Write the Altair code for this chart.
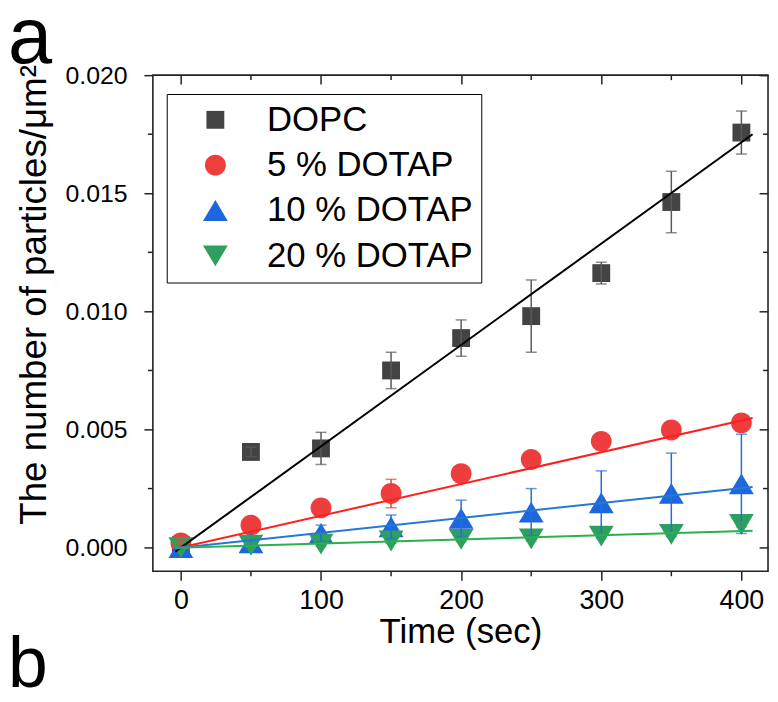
import altair as alt
import pandas as pd

FONT = "Liberation Sans"

# ---------------- data ----------------
time_s = [0, 50, 100, 150, 200, 250, 300, 350, 400]
series_names = ["DOPC", "5 % DOTAP", "10 % DOTAP", "20 % DOTAP"]

dopc = [0.0001, 0.00405, 0.0042, 0.0075, 0.00887, 0.0098, 0.01162, 0.01463, 0.01757]
dopc_err = [0.0, 0.0002, 0.00068, 0.00077, 0.00077, 0.00153, 0.00046, 0.0013, 0.00091]

dotap5 = [0.0002, 0.00095, 0.00168, 0.00229, 0.00313, 0.00373, 0.0045, 0.00498, 0.00528]
dotap5_err = [0.0001, 0.0002, 0.0002, 0.0006, 0.0002, 0.0002, 0.0002, 0.0002, 0.0002]

dotap10 = [0.0, 0.0002, 0.0006, 0.00088, 0.00124, 0.0015, 0.0019, 0.0023, 0.0027]
dotap10_err = [0.0, 0.0001, 0.00035, 0.0005, 0.00077, 0.001, 0.00135, 0.0017, 0.0021]

dotap20 = [0.0, 0.0001, 0.00015, 0.00028, 0.00035, 0.00037, 0.00049, 0.00056, 0.00098]
dotap20_err = [0.0, 0.0001, 0.0001, 0.0001, 0.0001, 0.0001, 0.0001, 0.0001, 0.0001]

# linear fit lines (end points)
fit_time = [-4, 408]
fit_dopc = [-0.00017, 0.0175]
fit_5 = [-0.00005, 0.00549]
fit_10 = [-0.00003, 0.00257]
fit_20 = [-0.00001, 0.00071]

# axis tick values
x_major = [0, 100, 200, 300, 400]
x_minor = [50, 150, 250, 350]
y_major = [0.0, 0.005, 0.010, 0.015, 0.020]
y_minor = [0.0025, 0.0075, 0.0125, 0.0175]

# styles
marker_colors = ["#434343", "#ee3d3d", "#1e66de", "#2f9f5f"]
line_colors = ["#000000", "#ff1f1f", "#2479d4", "#2ab14d"]
err_colors = ["#5a5a5a", "#ee3d3d", "#1e6fe0", "#2f9f5f"]
shape_paths = [
    "M-0.72,-0.72L0.72,-0.72L0.72,0.72L-0.72,0.72Z",
    "M0.84,0C0.84,0.464,0.464,0.84,0,0.84C-0.464,0.84,-0.84,0.464,-0.84,0"
    "C-0.84,-0.464,-0.464,-0.84,0,-0.84C0.464,-0.84,0.84,-0.464,0.84,0Z",
    "M0,-0.84L1,0.84L-1,0.84Z",
    "M0,0.84L1,-0.84L-1,-0.84Z",
]

# ---------------- tables ----------------
vals = [dopc, dotap5, dotap10, dotap20]
errs = [dopc_err, dotap5_err, dotap10_err, dotap20_err]
fits = [fit_dopc, fit_5, fit_10, fit_20]

pts_rows, fit_rows = [], []
for i, name in enumerate(series_names):
    for t, v, e in zip(time_s, vals[i], errs[i]):
        pts_rows.append({"series": name, "time": t, "value": v,
                         "lo": v - e, "hi": v + e, "ecol": err_colors[i]})
    for t, v in zip(fit_time, fits[i]):
        fit_rows.append({"series": name, "time": t, "value": v, "lcol": line_colors[i]})
pts = pd.DataFrame(pts_rows)
fitdf = pd.DataFrame(fit_rows)
errdf = pts[pts["hi"] > pts["lo"]]

W, H = 620, 500
XDOM = [-20, 419]
YDOM = [-0.001, 0.020]


def xs():
    return alt.Scale(domain=XDOM, nice=False, zero=False)


def ys():
    return alt.Scale(domain=YDOM, nice=False, zero=False)


TICK = "#222222"

x_axis_bottom = alt.Axis(orient="bottom", values=x_major, tickSize=9, tickWidth=1.5, tickColor=TICK,
                         labelFontSize=27, labelPadding=8, labelFont=FONT, labelColor="black",
                         domain=False, grid=False, title="Time (sec)", titleFont=FONT,
                         titleFontSize=35, titleFontWeight="normal", titleColor="black",
                         titleY=72, titleBaseline="alphabetic")
y_axis_left = alt.Axis(orient="left", values=y_major, format=".3f", tickSize=9, tickWidth=1.5,
                       tickColor=TICK, labelFontSize=25, labelPadding=17, labelFont=FONT,
                       labelColor="black", domain=False, grid=False,
                       title="The number of particles/\u03bcm\u00b2",
                       titleFont=FONT, titleFontSize=37, titleFontWeight="normal",
                       titleColor="black", titleAngle=270, titleAlign="center",
                       titleBaseline="alphabetic", titleX=-108, titleY=221)
x_axis_top = alt.Axis(orient="top", values=x_major, tickSize=9, tickWidth=1.5, tickColor=TICK,
                      offset=-9, labels=False, domain=False, grid=False, title=None)
y_axis_right = alt.Axis(orient="right", values=y_major, tickSize=9, tickWidth=1.5, tickColor=TICK,
                        offset=-9, labels=False, domain=False, grid=False, title=None)

legend = alt.Legend(orient="none", legendX=14, legendY=19, padding=8.5, strokeColor="black",
                    fillColor="white", title=None, labelFont=FONT, labelFontSize=35,
                    labelColor="black", labelLimit=600, symbolSize=625, symbolStrokeWidth=0,
                    symbolOffset=23, labelOffset=34.5, rowPadding=9.7)

points = alt.Chart(pts).mark_point(filled=True, size=625, opacity=1, strokeWidth=0).encode(
    x=alt.X("time:Q", scale=xs(), axis=x_axis_bottom),
    y=alt.Y("value:Q", scale=ys(), axis=y_axis_left),
    color=alt.Color("series:N", scale=alt.Scale(domain=series_names, range=marker_colors), legend=legend),
    shape=alt.Shape("series:N", scale=alt.Scale(domain=series_names, range=shape_paths), legend=legend),
)

err_rule = alt.Chart(errdf).mark_rule(strokeWidth=1.5).encode(
    x=alt.X("time:Q", scale=xs(), axis=None),
    y=alt.Y("lo:Q", scale=ys(), axis=None),
    y2="hi:Q",
    stroke=alt.Stroke("ecol:N", scale=None),
)
cap_hi = alt.Chart(errdf).mark_tick(orient="horizontal", size=11, thickness=1.5).encode(
    x=alt.X("time:Q", scale=xs(), axis=None),
    y=alt.Y("hi:Q", scale=ys(), axis=None),
    fill=alt.Fill("ecol:N", scale=None),
)
cap_lo = alt.Chart(errdf).mark_tick(orient="horizontal", size=11, thickness=1.5).encode(
    x=alt.X("time:Q", scale=xs(), axis=None),
    y=alt.Y("lo:Q", scale=ys(), axis=None),
    fill=alt.Fill("ecol:N", scale=None),
)

lines = alt.Chart(fitdf).mark_line(strokeWidth=2).encode(
    x=alt.X("time:Q", scale=xs(), axis=None),
    y=alt.Y("value:Q", scale=ys(), axis=None),
    detail="series:N",
    stroke=alt.Stroke("lcol:N", scale=None),
)

xmin_df = pd.DataFrame({"t": x_minor})
ymin_df = pd.DataFrame({"v": y_minor})
bottom_minor = alt.Chart(xmin_df).mark_rule(strokeWidth=1.5, color=TICK).encode(
    x=alt.X("t:Q", scale=xs(), axis=None), y=alt.value(H), y2=alt.value(H + 5))
top_minor = alt.Chart(xmin_df).mark_rule(strokeWidth=1.5, color=TICK).encode(
    x=alt.X("t:Q", scale=xs(), axis=x_axis_top), y=alt.value(0), y2=alt.value(5))
left_minor = alt.Chart(ymin_df).mark_rule(strokeWidth=1.5, color=TICK).encode(
    y=alt.Y("v:Q", scale=ys(), axis=None), x=alt.value(0), x2=alt.value(-5))
right_minor = alt.Chart(ymin_df).mark_rule(strokeWidth=1.5, color=TICK).encode(
    y=alt.Y("v:Q", scale=ys(), axis=y_axis_right), x=alt.value(W), x2=alt.value(W - 5))

lab_a = alt.Chart(pd.DataFrame({"lab": ["a"]})).mark_text(
    font=FONT, fontSize=80, align="left", baseline="alphabetic", color="black").encode(
    x=alt.value(-146), y=alt.value(-12), text="lab:N")
lab_b = alt.Chart(pd.DataFrame({"lab": ["b"]})).mark_text(
    font=FONT, fontSize=72, align="left", baseline="alphabetic", color="black").encode(
    x=alt.value(-146), y=alt.value(617), text="lab:N")

chart = alt.layer(
    points, err_rule, cap_hi, cap_lo, lines,
    bottom_minor, top_minor, left_minor, right_minor, lab_a, lab_b
).resolve_scale(
    x="independent", y="independent"
).properties(
    width=W, height=H,
    autosize=alt.AutoSizeParams(type="none"),
    padding={"left": 146, "top": 65, "right": 2, "bottom": 118},
).configure(font=FONT).configure_view(
    stroke=TICK, strokeWidth=1.6
)

chart.save("out.html", embed_options={"renderer": "svg", "actions": False})
